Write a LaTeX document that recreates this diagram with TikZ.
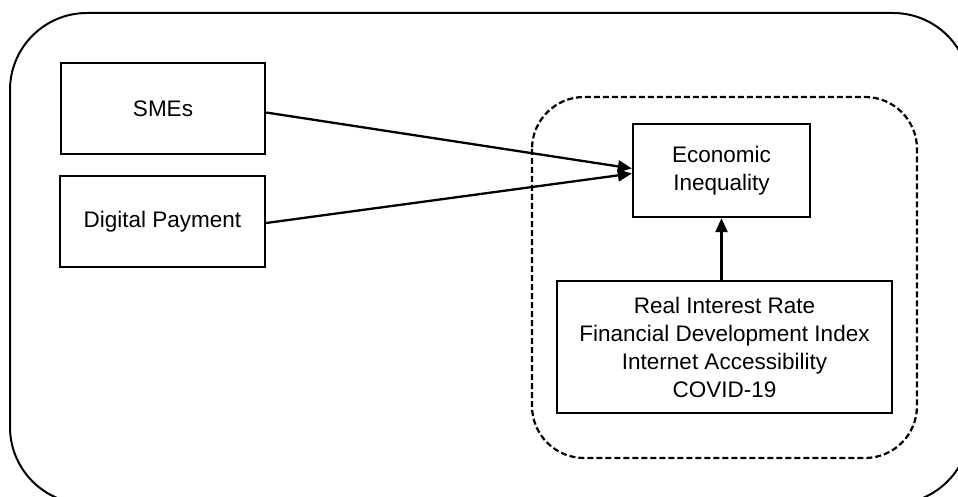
\documentclass[tikz,border=0pt]{standalone}
\usepackage{fontspec}
\setmainfont{Liberation Sans}
\usetikzlibrary{arrows.meta}
\begin{document}
\begin{tikzpicture}[x=1pt,y=-1pt,
  box/.style={draw, line width=2.3pt, inner sep=0pt, align=center,
    font=\fontsize{22.5}{28}\selectfont},
  arr/.style={line width=2.3pt, -{Triangle[length=14pt,width=12pt]}},
  frame/.style={draw, line width=2pt},
  dashframe/.style={draw, line width=2.2pt, dash pattern=on 6pt off 3pt}]
\useasboundingbox (0,0) rectangle (958,497);
\clip (0,0) rectangle (958,497);
\draw[frame, rounded corners=77pt] (10,13) rectangle (970,504);
\draw[dashframe, rounded corners=52pt] (532,97) rectangle (917,458);
\node[box, minimum width=204pt, minimum height=91pt] (smes) at (163,108.5) {SMEs};
\node[box, minimum width=205pt, minimum height=91pt] (dig) at (162.5,221.5) {Digital Payment};
\node[box, minimum width=177pt, minimum height=93pt] (econ) at (721.5,170.5) {Economic\\Inequality};
\node[box, minimum width=335pt, minimum height=132pt] (ctrl) at (724.5,347) {Real Interest Rate\\Financial Development Index\\Internet Accessibility\\COVID-19};
\draw[arr] ([yshift=-4pt]smes.east) -- ([yshift=2pt]econ.west);
\draw[arr] ([yshift=-1.5pt]dig.east) -- ([yshift=-3pt]econ.west);
\draw[arr] (econ.south |- ctrl.north) -- (econ.south);
\end{tikzpicture}
\end{document}
